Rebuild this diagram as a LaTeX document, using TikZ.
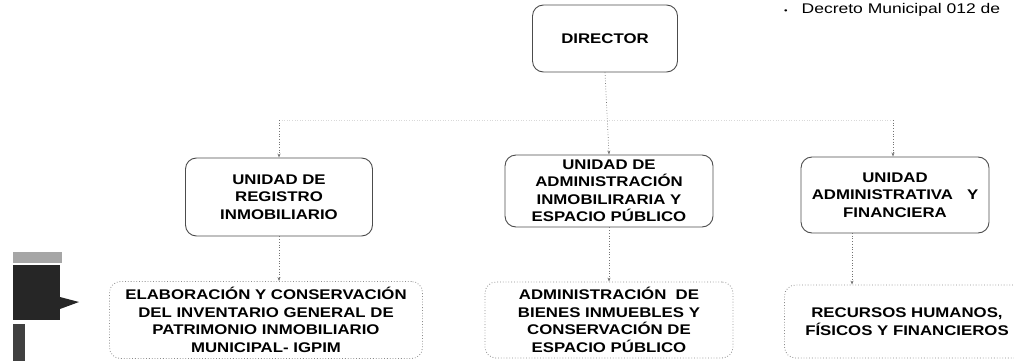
\documentclass[tikz,border=0pt]{standalone}
\usepackage{fontspec}
\setmainfont{Liberation Sans}
\newfontfamily\boxfont[FakeStretch=1.2]{Liberation Sans}
\newfontfamily\notefont[FakeStretch=1.25]{Liberation Sans}
\usetikzlibrary{arrows.meta}
\begin{document}
\begin{tikzpicture}[x=1pt,y=-1pt,
  topbox/.style={draw=black!70, line width=0.9pt, rounded corners=11pt,
    align=center, inner sep=0pt,
    font=\boxfont\bfseries\fontsize{14}{17.5}\selectfont},
  lowbox/.style={draw=black!45, line width=0.8pt, dotted, rounded corners=11pt,
    align=center, inner sep=0pt,
    font=\boxfont\bfseries\fontsize{14}{17.5}\selectfont},
  conn/.style={draw=black!55, line width=0.7pt, dotted,
    -{Stealth[length=4pt,width=3pt]}},
  branch/.style={draw=black!15, line width=0.6pt, dotted}]
\useasboundingbox (0,0) rectangle (1014,361);
% boxes
\node[topbox, minimum width=145pt, minimum height=67pt] (dir) at (605,38.5) {DIRECTOR};
\node[topbox, minimum width=187pt, minimum height=78pt] (reg) at (279,197)
  {UNIDAD DE\\REGISTRO\\INMOBILIARIO};
\node[topbox, minimum width=208pt, minimum height=72pt] (adm) at (609,191)
  {UNIDAD DE\\ADMINISTRACIÓN\\INMOBILIRARIA Y\\ESPACIO PÚBLICO};
\node[topbox, minimum width=188pt, minimum height=76pt] (fin) at (895,195)
  {UNIDAD\\ADMINISTRATIVA\quad Y\\FINANCIERA};
\node[lowbox, minimum width=313pt, minimum height=77pt] (igpim) at (266,320)
  {ELABORACIÓN Y CONSERVACIÓN\\DEL INVENTARIO GENERAL DE\\PATRIMONIO INMOBILIARIO\\MUNICIPAL- IGPIM};
\node[lowbox, minimum width=248pt, minimum height=76pt] (bienes) at (609,320)
  {ADMINISTRACIÓN\ \ DE\\BIENES INMUEBLES Y\\CONSERVACIÓN DE\\ESPACIO PÚBLICO};
\node[lowbox, minimum width=245pt, minimum height=73pt] (rrhh) at (907,321.5)
  {RECURSOS HUMANOS,\\FÍSICOS Y FINANCIEROS};
% note
\node[anchor=west, inner sep=0pt, font=\notefont\fontsize{14}{16}\selectfont] (note) at (784,10)
  {{\fontsize{8}{8}\selectfont •}\hspace{14pt}Decreto Municipal 012 de};
% connectors
\coordinate (bl) at (279,120);
\coordinate (br) at (893,120);
\draw[branch] (bl) -- (br);
\draw[conn] (dir.south) -- (adm.north);
\draw[conn] (bl) -- (reg.north);
\draw[conn] (br) -- (br |- fin.north);
\draw[conn] (reg.south) -- (reg.south |- igpim.north);
\draw[conn] (adm.south) -- (adm.south |- bienes.north);
\coordinate (fr) at (852,233);
\draw[conn] (fr) -- (fr |- rrhh.north);
% scanned artifact at left
\fill[black!35] (13,252) rectangle (62,263);
\fill[black!85] (13,265) rectangle (60,320);
\fill[black!85] (60,297) -- (79,302) -- (60,309) -- cycle;
\fill[black!75] (13,324) rectangle (25,361);
\end{tikzpicture}
\end{document}
